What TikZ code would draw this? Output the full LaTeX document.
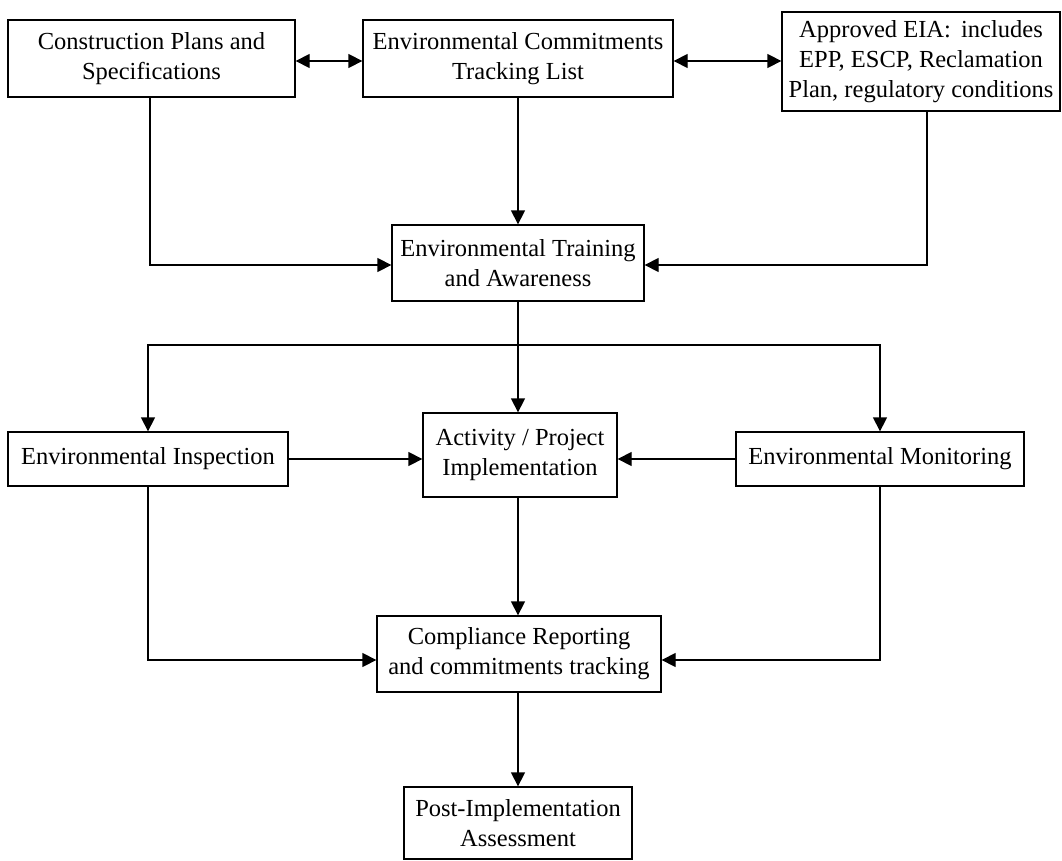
\documentclass[tikz,border=0pt]{standalone}
\usepackage{fontspec}
\setmainfont{Liberation Serif}
\usetikzlibrary{arrows.meta}
\begin{document}
\begin{tikzpicture}[x=1pt,y=-1pt,
  box/.style={draw,line width=1.3pt,align=center,inner sep=0pt,
    font=\fontsize{24.5}{30}\selectfont},
  conn/.style={line width=1.3pt,-{Triangle[length=14pt,width=14pt]}},
  dconn/.style={line width=1.3pt,{Triangle[length=14pt,width=14pt]}-{Triangle[length=14pt,width=14pt]}}]
\useasboundingbox (0,0) rectangle (1062,861);
\node[box,minimum width=287pt,minimum height=77pt] (b1) at (151.5,58.5) {Construction Plans and\\Specifications};
\node[box,minimum width=310pt,minimum height=77pt] (b2) at (518,58.5) {Environmental Commitments\\Tracking List};
\node[box,minimum width=278pt,minimum height=99pt] (b3) at (921,61.5) {Approved EIA:\, includes\\EPP, ESCP, Reclamation\\Plan, regulatory conditions};
\node[box,minimum width=252pt,minimum height=76pt] (b4) at (518,263) {Environmental Training\\and Awareness};
\node[box,minimum width=280pt,minimum height=54pt] (b5) at (148,459) {Environmental Inspection};
\node[box,minimum width=194pt,minimum height=84pt] (b6) at (520,455) {Activity / Project\\Implementation};
\node[box,minimum width=288pt,minimum height=54pt] (b7) at (880,459) {Environmental Monitoring};
\node[box,minimum width=284pt,minimum height=76pt] (b8) at (519,654) {Compliance Reporting\\and commitments tracking};
\node[box,minimum width=228pt,minimum height=72pt] (b9) at (518,823) {Post-Implementation\\Assessment};
\coordinate (br) at (518,345);
\draw[dconn] ([yshift=-2.5pt]b1.east) -- ([yshift=-2.5pt]b2.west);
\draw[dconn] ([yshift=-2.5pt]b2.east) -- ([yshift=-2.5pt]b3.west |- b2.east);
\draw[conn] ([xshift=-1.5pt]b1.south) |- ([yshift=-2pt]b4.west);
\draw[conn] (b2.south) -- (b4.north);
\draw[conn] ([xshift=6pt]b3.south) |- ([yshift=-2pt]b4.east);
\draw[conn] (b4.south) -- (b6.north -| b4.south);
\draw[conn] (br) -| (b5.north);
\draw[conn] (br) -| (b7.north);
\draw[conn] (b5.east) -- (b6.west |- b5.east);
\draw[conn] (b7.west) -- (b6.east |- b7.west);
\draw[conn] (b5.south) |- ([yshift=-6pt]b8.west);
\draw[conn] (b6.south -| b4.south) -- (b8.north -| b4.south);
\draw[conn] (b7.south) |- ([yshift=-6pt]b8.east);
\draw[conn] (b8.south -| b9.north) -- (b9.north);
\end{tikzpicture}
\end{document}
